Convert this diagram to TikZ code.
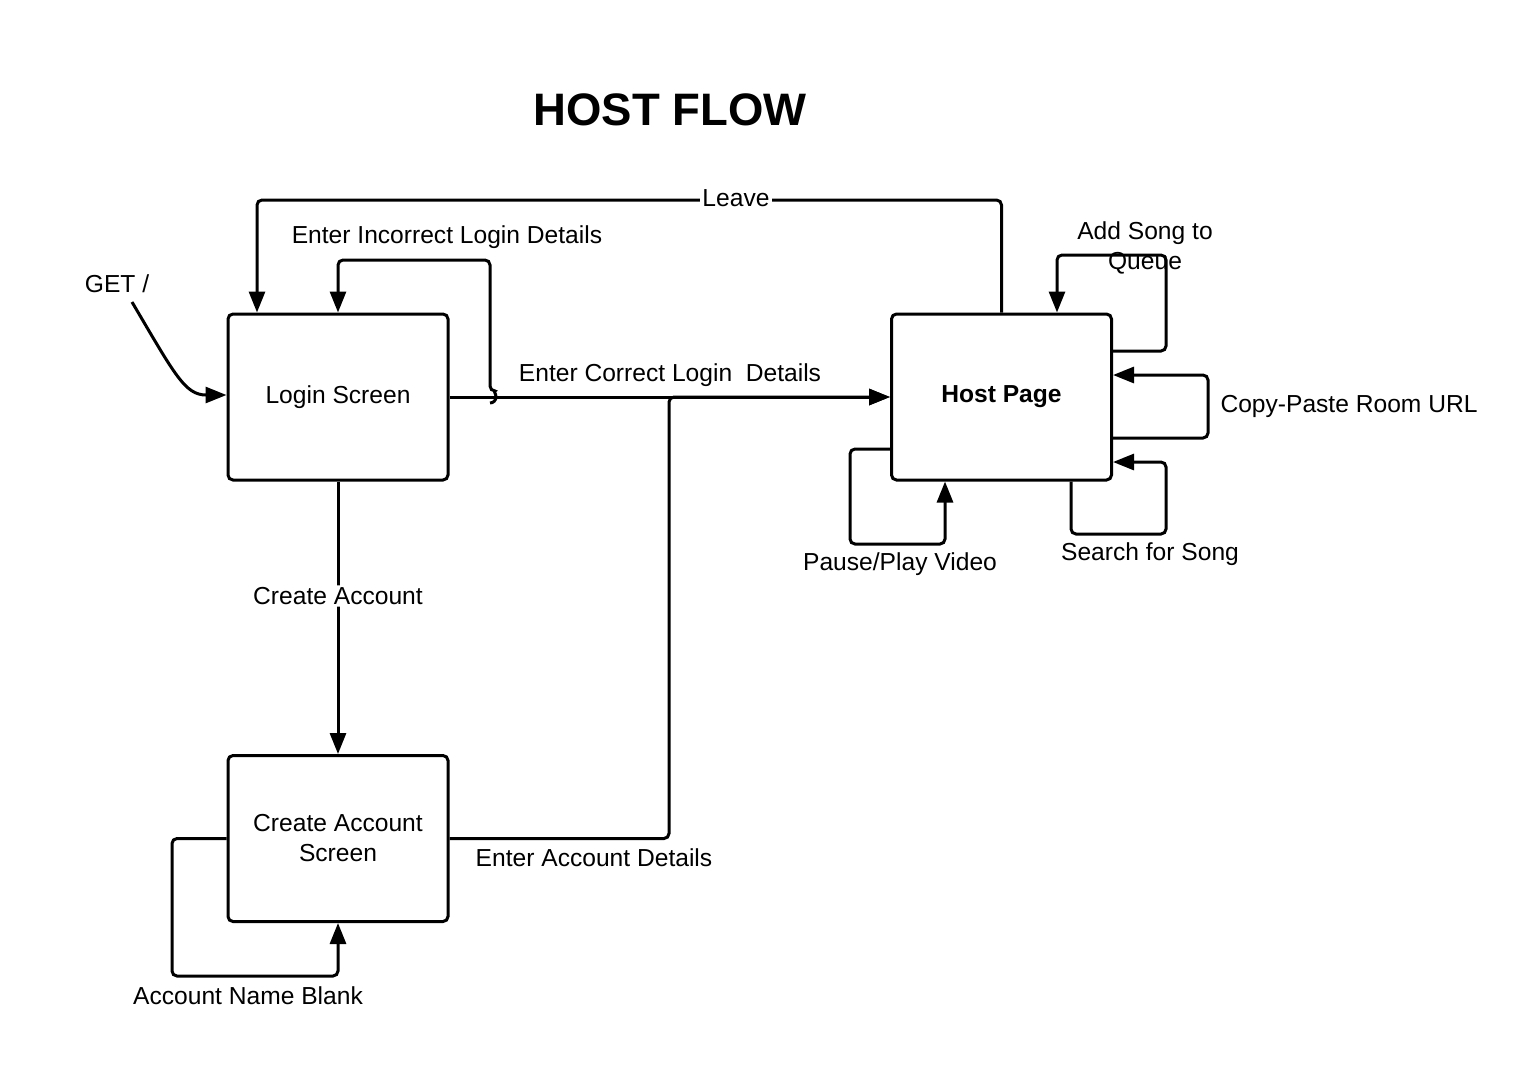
\documentclass[tikz,border=0pt]{standalone}
\usepackage{fontspec}
\setmainfont{Liberation Sans}
\usetikzlibrary{arrows.meta}
\begin{document}
\begin{tikzpicture}[x=0.5pt,y=-0.5pt,
  every node/.style={font=\fontsize{12.3}{15}\selectfont},
  box/.style={draw,line width=1.5pt,rounded corners=2.5pt,minimum width=110pt,minimum height=83pt,inner sep=0pt,align=center},
  conn/.style={line width=1.5pt,rounded corners=2.5pt},
  arr/.style={conn,-{Triangle[length=10.5pt,width=8pt]}},
  lbl/.style={inner sep=1pt,align=center},
  lblw/.style={lbl,fill=white}]
\useasboundingbox (0,0) rectangle (1530,1078);
\node[font=\fontsize{22.75}{26}\selectfont\bfseries] (title) at (670,110) {HOST FLOW};
\node[box] (login) at (338,397) {Login Screen};
\node[box] (ca) at (338,838.5) {Create Account\\Screen};
\node[box,font=\fontsize{12.3}{15}\selectfont\bfseries] (host) at (1001.5,397) {Host Page};
% GET
\node[lbl] (get) at (117,284) {GET /};
\coordinate (gets) at (132,302);
\draw[arr] (gets) .. controls (175,375) and (185,395) .. ([yshift=1pt]login.west);
% Leave
\draw[arr] (host.north) -- (1001.5,200) -- (257,200) -- ([xshift=-40.5pt]login.north);
\node[lblw] (leave) at (736,198) {Leave};
% Incorrect login loop
\coordinate (jmp) at (490,397);
\draw[arr] ([yshift=-3pt]jmp) arc[start angle=-90,end angle=90,radius=3pt] -- (490,260) -- (338,260) -- (login.north);
\node[lbl] (incl) at (447,237) {Enter Incorrect Login Details};
% Correct login
\draw[arr] (login.east) -- (host.west);
\node[lbl] (corl) at (670,375) {Enter Correct Login\ \ Details};
% Create account
\draw[arr] (login.south) -- (ca.north) node[lblw,pos=0.42] (cal) {Create Account};
% Enter account details
\draw[arr] (ca.east) -- (669,838.5) -- (669,397) -- (host.west);
\node[lbl] (ead) at (594,858) {Enter Account Details};
% Account name blank
\draw[arr] (ca.west) -- (172,838.5) -- (172,976) -- (338,976) -- (ca.south);
\node[lbl] (anb) at (248,996) {Account Name Blank};
% Host loops
\draw[arr] ([yshift=23pt]host.east) -- (1166,351) -- (1166,255) -- (1057,255) -- ([xshift=27.75pt]host.north);
\node[lbl] (asq) at (1145,248) {Add Song to\\Queue};
\draw[arr] ([yshift=-20.5pt]host.east) -- (1208,438) -- (1208,375) -- ([yshift=11pt]host.east);
\node[lbl] (cpr) at (1349,406) {Copy-Paste Room URL};
\draw[arr] ([xshift=34.75pt]host.south) -- (1071,534) -- (1166,534) -- (1166,462) -- ([yshift=-32.5pt]host.east);
\node[lbl] (sfs) at (1150,554) {Search for Song};
\draw[arr] ([yshift=-26pt]host.west) -- (850,449) -- (850,544) -- (945,544) -- ([xshift=-28.25pt]host.south);
\node[lbl] (ppv) at (900,564) {Pause/Play Video};
\end{tikzpicture}
\end{document}
